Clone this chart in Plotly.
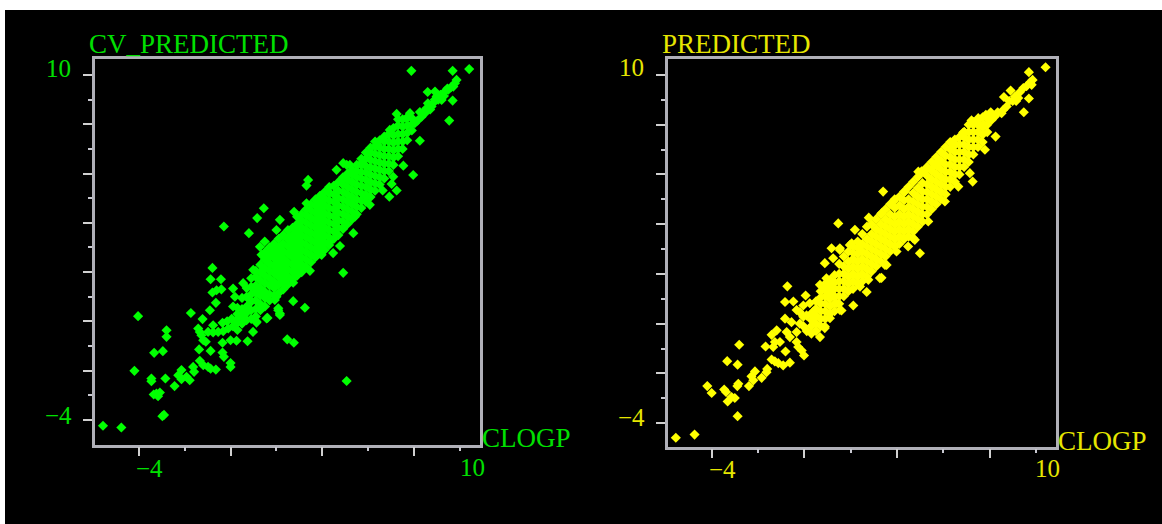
import plotly.graph_objects as go

W, H = 1162, 524

clogp_columns = [0.3, 0.5, 0.7, 0.9, 1.1, 1.3, 1.5, 1.7, 1.9, 2.1, 2.3, 2.5, 2.7, 2.9, 3.1, 3.3, 3.5, 3.7, 3.9, 4.1,
                 4.3, 4.5, 4.7, 4.9, 5.1, 5.3, 5.5, 5.7, 5.9, 6.1, 6.3, 6.5, 6.7, 6.9, 7.1, 7.3, 7.5, 7.7, 7.9]

cv_core = [
    [-0.35, -0.05, 0.3, 0.55],
    [-0.1, 0.2, 0.5, 0.95],
    [0.05, 0.35, 0.6, 1.0, 1.35],
    [0.1, 0.45, 0.8, 1.1, 1.4, 1.75],
    [0.2, 0.5, 0.85, 1.15, 1.45, 1.8, 2.05],
    [0.45, 0.7, 1.05, 1.35, 1.65, 2.0, 2.3],
    [0.6, 0.95, 1.2, 1.55, 1.85, 2.15, 2.5, 2.8],
    [0.85, 1.1, 1.45, 1.75, 2.05, 2.35, 2.65, 3.0],
    [1.05, 1.35, 1.6, 1.95, 2.25, 2.55, 2.85, 3.15],
    [1.15, 1.5, 1.8, 2.1, 2.4, 2.7, 3.0, 3.35],
    [1.3, 1.65, 1.95, 2.25, 2.55, 2.85, 3.15, 3.5],
    [1.5, 1.8, 2.1, 2.4, 2.75, 3.05, 3.35, 3.7],
    [1.7, 2.0, 2.3, 2.6, 2.9, 3.2, 3.5, 3.8],
    [1.85, 2.15, 2.45, 2.75, 3.05, 3.35, 3.65, 3.95, 4.25],
    [2.0, 2.3, 2.6, 2.9, 3.2, 3.5, 3.8, 4.1, 4.35],
    [2.2, 2.5, 2.8, 3.1, 3.4, 3.7, 4.0, 4.3, 4.55],
    [2.4, 2.7, 3.0, 3.3, 3.6, 3.9, 4.2, 4.5, 4.75],
    [2.6, 2.9, 3.2, 3.5, 3.8, 4.1, 4.4, 4.7, 4.95],
    [2.75, 3.05, 3.35, 3.65, 3.95, 4.25, 4.55, 4.85, 5.1],
    [2.9, 3.2, 3.5, 3.8, 4.1, 4.4, 4.7, 5.0, 5.25],
    [3.1, 3.4, 3.7, 4.0, 4.3, 4.6, 4.9, 5.2, 5.45],
    [3.35, 3.65, 3.95, 4.25, 4.55, 4.85, 5.15, 5.5],
    [3.5, 3.8, 4.1, 4.4, 4.7, 5.0, 5.3, 5.65],
    [3.75, 4.05, 4.35, 4.65, 4.95, 5.25, 5.55, 5.85],
    [3.95, 4.25, 4.55, 4.85, 5.15, 5.45, 5.75, 6.0],
    [4.15, 4.45, 4.75, 5.05, 5.35, 5.65, 5.95, 6.15],
    [4.35, 4.65, 4.95, 5.25, 5.55, 5.85, 6.1, 6.35],
    [4.6, 4.9, 5.2, 5.5, 5.8, 6.05, 6.35, 6.6],
    [4.85, 5.15, 5.45, 5.75, 6.05, 6.3, 6.6, 6.85],
    [5.05, 5.35, 5.65, 5.95, 6.25, 6.55, 6.85, 7.05],
    [5.3, 5.6, 5.9, 6.2, 6.5, 6.8, 7.1, 7.3],
    [5.55, 5.85, 6.15, 6.45, 6.75, 7.05, 7.35],
    [5.8, 6.1, 6.4, 6.7, 7.0, 7.3, 7.5],
    [6.1, 6.4, 6.7, 7.0, 7.3, 7.6],
    [6.35, 6.65, 6.95, 7.25, 7.55, 7.85],
    [6.7, 7.0, 7.3, 7.6, 7.95, 8.2],
    [7.0, 7.3, 7.6, 7.9, 8.2],
    [7.35, 7.65, 7.95, 8.25],
    [7.75, 8.0, 8.25],
]

pred_core = [
    [-0.4, -0.1, 0.15, 0.4],
    [-0.3, 0.0, 0.3, 0.6, 0.9],
    [-0.1, 0.2, 0.5, 0.8, 1.05, 1.3],
    [0.2, 0.5, 0.8, 1.1, 1.4, 1.6],
    [0.4, 0.7, 1.0, 1.25, 1.5, 1.75],
    [0.5, 0.8, 1.1, 1.4, 1.65, 1.95],
    [0.8, 1.1, 1.4, 1.7, 2.0, 2.4],
    [1.1, 1.4, 1.7, 2.0, 2.3, 2.7],
    [1.3, 1.6, 1.9, 2.2, 2.5, 2.9],
    [1.4, 1.7, 2.0, 2.3, 2.6, 2.85, 3.1],
    [1.6, 1.9, 2.2, 2.5, 2.8, 3.05, 3.3],
    [1.7, 2.0, 2.3, 2.6, 2.9, 3.2, 3.6],
    [1.9, 2.2, 2.5, 2.8, 3.1, 3.4, 3.9],
    [2.1, 2.4, 2.7, 3.0, 3.3, 3.6, 4.0],
    [2.3, 2.6, 2.9, 3.2, 3.5, 3.8, 4.2],
    [2.5, 2.8, 3.1, 3.4, 3.7, 4.0, 4.4],
    [2.7, 3.0, 3.3, 3.6, 3.9, 4.2, 4.6],
    [2.9, 3.2, 3.5, 3.8, 4.1, 4.4, 4.8],
    [3.1, 3.4, 3.7, 4.0, 4.3, 4.65, 5.0],
    [3.2, 3.5, 3.8, 4.1, 4.4, 4.75, 5.1],
    [3.4, 3.7, 4.0, 4.3, 4.6, 4.95, 5.3],
    [3.5, 3.8, 4.1, 4.4, 4.7, 5.0, 5.5],
    [3.7, 4.0, 4.3, 4.6, 4.9, 5.25, 5.7],
    [3.9, 4.2, 4.5, 4.8, 5.1, 5.45, 5.9],
    [4.1, 4.4, 4.7, 5.0, 5.3, 5.65, 6.1],
    [4.4, 4.7, 5.0, 5.3, 5.6, 5.95, 6.3],
    [4.6, 4.9, 5.2, 5.5, 5.8, 6.15, 6.5],
    [4.8, 5.1, 5.4, 5.7, 6.0, 6.35, 6.7],
    [5.0, 5.3, 5.6, 5.9, 6.2, 6.55, 6.9],
    [5.2, 5.5, 5.8, 6.1, 6.4, 6.75, 7.1],
    [5.5, 5.8, 6.1, 6.4, 6.7, 7.0, 7.3],
    [5.7, 6.0, 6.3, 6.6, 6.9, 7.2, 7.4],
    [6.0, 6.3, 6.6, 6.9, 7.2, 7.5],
    [6.3, 6.6, 6.9, 7.2, 7.5, 7.7],
    [6.5, 6.8, 7.1, 7.4, 7.7, 8.0],
    [6.8, 7.1, 7.4, 7.7, 8.0, 8.1],
    [7.1, 7.4, 7.7, 8.0, 8.2],
    [7.3, 7.6, 7.9, 8.3],
    [7.7, 8.0, 8.3],
]

cv_low = [(-5.56, -4.24), (-4.76, -4.31), (-2.97, -3.85), (-2.9, -3.8), (-4.03, 0.21), (-2.79, -0.36), (-2.79, -0.63),
          (-3.33, -1.28), (-2.95, -1.21), (-4.19, -2.01), (-3.45, -2.32), (-3.45, -2.43), (-2.84, -2.32),
          (-3.23, -2.93), (-3.08, -2.89), (-3.35, -2.97), (-3.16, -3.04), (-2.44, -2.63), (-2.14, -1.98),
          (-2.28, -2.19), (-2.14, -2.35), (-1.92, -2.25), (-1.78, -2.39), (-1.63, -1.85), (-1.59, -2.05),
          (-1.34, -1.6), (-1.19, -1.78), (-0.98, -1.85), (-0.87, -1.92), (-0.64, -1.96), (-1.37, -1.14),
          (-0.87, -1.2), (-0.35, -1.27), (-0.29, -1.44), (0.0, -1.69), (0.0, -1.85), (-1.73, 0.34), (-1.22, 0.09),
          (-0.9, 0.45), (-0.64, 0.75), (-0.79, 1.17), (-0.61, 1.26), (-0.4, 1.3), (-0.87, 1.71), (-0.42, 1.71),
          (-0.79, 2.17), (-1.41, -0.29), (-1.34, -0.43), (-1.27, -0.56), (-1.19, -0.77), (-1.08, -0.83),
          (-0.76, -0.16), (-0.98, -0.43), (-0.76, -0.45), (-0.54, -0.43), (-0.32, -0.4), (-0.1, -0.29), (-0.35, -0.06),
          (-0.35, -0.87), (0.0, -0.77), (0.26, -0.79), (0.74, -0.81), (0.11, 1.33), (0.98, -0.43), (1.13, -0.05),
          (1.61, 0.14), (2.15, 0.32), (2.08, 0.45), (2.73, 0.82), (2.47, -0.73), (2.76, -0.87), (2.73, 1.57),
          (0.1, -0.2), (0.05, 0.1), (-0.15, 0.0)]

cv_high = [(4.91, 1.97), (3.24, 0.55), (5.06, -2.42), (3.46, 2.05), (7.88, 10.17), (9.68, 10.17), (10.4, 10.24),
           (9.68, 8.96), (9.53, 8.15), (8.25, 7.33), (7.24, 8.42), (6.94, 7.77), (8.59, 9.31), (7.96, 5.94),
           (7.24, 5.31), (6.92, 5.06), (6.63, 5.31), (5.35, 3.58), (4.47, 2.77), (4.77, 3.06), (3.38, 5.74),
           (3.31, 5.51), (3.31, 4.79), (4.62, 6.15), (4.91, 6.42), (5.2, 6.35), (5.71, 6.42), (6.07, 6.82),
           (6.41, 7.16), (7.53, 6.32), (7.09, 5.87), (7.02, 5.58), (6.07, 4.73), (1.45, 4.59), (2.77, 4.45),
           (1.16, 4.19), (-0.29, 3.85), (0.8, 3.58), (9.85, 9.8), (9.71, 9.53), (9.34, 9.33), (8.91, 9.33),
           (9.2, 8.99), (8.98, 9.13), (8.76, 8.72), (8.54, 8.65), (8.33, 8.31), (8.03, 8.04), (7.67, 8.25),
           (7.82, 8.45), (9.78, 9.67), (9.49, 9.4), (8.47, 8.45), (8.83, 8.86)]

cv_fringe = [(2.15, 4.12), (2.0, 3.71), (1.49, 3.24), (1.28, 3.03), (1.35, 2.7), (0.99, 2.09), (0.55, 1.55), (0.19, 1.0),
             (3.89, 5.06), (4.26, 5.27), (4.91, 5.74), (5.06, 6.35), (2.0, 1.0), (1.93, 0.87), (2.37, 1.48),
             (3.09, 2.15), (3.97, 2.7), (4.33, 3.24), (5.42, 4.25), (4.91, 3.78), (5.93, 5.06), (2.58, 3.44),
             (1.78, 2.83), (1.13, 1.27), (0.84, 0.87), (0.55, 0.33), (0.11, 0.6), (0.26, 0.06), (1.13, -0.01),
             (1.57, 0.12), (2.15, 0.26), (2.08, 0.53), (8.15, 8.15), (8.25, 8.5), (8.4, 8.5), (8.6, 8.85),
             (8.7, 8.6), (8.9, 9.0), (9.05, 9.0), (9.15, 9.2), (9.3, 9.15), (9.45, 9.45), (9.6, 9.5)]

pred_low = [(-5.56, -4.59), (-4.75, -4.46), (-2.89, -3.72), (-3.32, -3.13), (-3.15, -2.95), (-3.01, -2.99),
            (-4.2, -2.51), (-4.01, -2.79), (-3.47, -2.65), (-3.39, -2.75), (-2.86, -2.42), (-2.9, -2.51),
            (-2.4, -2.51), (-3.34, -1.51), (-2.89, -1.65), (-2.82, -0.85), (-2.29, -2.12), (-2.14, -1.92),
            (-2.21, -2.28), (-1.85, -2.18), (-1.61, -1.82), (-1.64, -1.95), (-1.42, -1.44), (-1.28, -1.52),
            (-1.13, -1.59), (-0.92, -1.68), (-0.63, -1.57), (-1.68, -0.92), (-1.42, -0.45), (-1.2, -0.27),
            (-1.35, -0.94), (-1.28, -0.74), (-1.06, -0.74), (-0.82, -1.12), (-0.34, -0.74), (-0.27, -0.94),
            (-0.12, -1.08), (-0.02, -1.28), (-0.74, 1.5), (-0.84, 0.87), (-0.48, 0.89), (-0.84, 0.2), (-0.56, 0.06),
            (-0.2, 0.0), (-0.77, -0.34), (-0.63, -0.54), (-0.34, -0.34), (0.05, 1.13), (0.67, -0.54), (0.88, -0.18),
            (1.6, 0.53), (2.11, 0.73), (2.69, 1.27), (3.26, 1.83), (-0.05, 0.73), (-0.2, 0.46), (0.09, 0.33),
            (0.1, -0.3), (-0.05, -0.1)]

pred_high = [(3.48, 2.36), (3.33, 1.84), (3.4, 5.31), (1.46, 4.03), (2.78, 4.26), (2.18, 3.77), (1.96, 3.16),
             (1.17, 3.03), (1.53, 3.03), (10.42, 10.31), (9.7, 10.11), (9.86, 9.8), (9.82, 9.6), (9.46, 9.47),
             (9.24, 9.07), (9.1, 9.13), (8.91, 9.37), (8.62, 9.11), (9.7, 9.05), (9.48, 8.5), (8.74, 8.73),
             (8.52, 8.46), (8.23, 8.33), (7.84, 8.4), (7.51, 8.26), (7.22, 8.17), (6.91, 7.7), (8.26, 7.52),
             (7.8, 6.99), (7.27, 5.71), (6.65, 5.51), (6.07, 4.91), (5.35, 4.11), (4.48, 3.1), (4.99, 2.83),
             (4.77, 3.37), (5.06, 6.12), (5.71, 6.45), (6.36, 7.05)]

pred_fringe = [(2.04, 3.23), (1.53, 2.96), (0.88, 2.43), (1.24, 2.63), (0.67, 1.56), (0.95, 1.82), (0.23, 0.82),
               (3.33, 4.44), (3.84, 4.91), (4.34, 5.31), (4.92, 6.11), (5.64, 6.38), (6.07, 6.78), (6.43, 7.12),
               (6.86, 7.68), (5.13, 6.11), (2.76, 1.76), (3.55, 2.36), (3.98, 2.9), (4.7, 3.43), (7.15, 6.05),
               (1.53, 0.55), (0.88, -0.12), (1.1, 0.22), (1.39, 0.82), (2.4, 1.49), (-0.34, 0.55), (0.38, 0.48),
               (-0.05, 0.28), (8.1, 8.2), (8.35, 8.5), (8.6, 8.6), (8.85, 8.95), (9.0, 8.95), (9.3, 9.3),
               (9.15, 8.95), (9.6, 9.55), (9.75, 9.7), (8.05, 8.5), (7.75, 8.0), (7.95, 8.2), (7.6, 8.0)]

major_x = [-4, 0, 4, 8]
minor_x = [-2, 2, 6, 10]
major_y = [-4, -2, 0, 2, 4, 6, 8, 10]
minor_y = [-3, -1, 1, 3, 5, 7, 9]

GREEN = "#00ff00"
YELLOW = "#ffff00"
TEXT_GREEN = "#00e000"
TEXT_YELLOW = "#e6e600"
FRAME = "#b0b0b8"


def flatten(columns, core, *extras):
    xs, ys = [], []
    for c, vals in zip(columns, core):
        for v in vals:
            xs.append(c)
            ys.append(v)
    for extra in extras:
        for x, y in extra:
            xs.append(x)
            ys.append(y)
    return xs, ys


def axis_style(major, minor, domain, rng, anchor):
    return dict(
        domain=domain, range=rng, anchor=anchor, showgrid=False, zeroline=False, showticklabels=False,
        showline=True, mirror=True, linecolor=FRAME, linewidth=2.5,
        tickmode="array", tickvals=major, ticks="outside", ticklen=9, tickwidth=2, tickcolor="#d0d0d0",
        minor=dict(tickmode="array", tickvals=minor, ticks="outside", ticklen=4, tickwidth=2, tickcolor="#c8c8d0"),
    )


fig = go.Figure()
x1, y1 = flatten(clogp_columns, cv_core, cv_low, cv_high, cv_fringe)
x2, y2 = flatten(clogp_columns, pred_core, pred_low, pred_high, pred_fringe)
marker_common = dict(symbol="diamond", size=7.8, line=dict(width=0))
fig.add_trace(go.Scatter(x=x1, y=y1, mode="markers", xaxis="x", yaxis="y", marker=dict(color=GREEN, **marker_common)))
fig.add_trace(go.Scatter(x=x2, y=y2, mode="markers", xaxis="x2", yaxis="y2", marker=dict(color=YELLOW, **marker_common)))


def label(text, px, py, color, size=27):
    return dict(text=text, x=px / W, y=1 - py / H, xref="paper", yref="paper", xanchor="left", yanchor="middle",
                showarrow=False, font=dict(family="Liberation Serif", size=size, color=color), borderpad=0, borderwidth=0)


annotations = [
    label("CV_PREDICTED", 89, 44, TEXT_GREEN),
    label("10", 46, 68, TEXT_GREEN, 25),
    label("\u22124", 45, 415, TEXT_GREEN, 25),
    label("\u22124", 136, 468, TEXT_GREEN, 25),
    label("10", 460, 467, TEXT_GREEN, 25),
    label("CLOGP", 482, 438, TEXT_GREEN),
    label("PREDICTED", 662, 44, TEXT_YELLOW),
    label("10", 619, 67, TEXT_YELLOW, 25),
    label("\u22124", 618, 417, TEXT_YELLOW, 25),
    label("\u22124", 709, 469, TEXT_YELLOW, 25),
    label("10", 1035, 468, TEXT_YELLOW, 25),
    label("CLOGP", 1058, 441, TEXT_YELLOW),
]

fig.update_layout(
    width=W, height=H, autosize=False, showlegend=False,
    margin=dict(l=0, r=0, t=0, b=0, pad=0),
    paper_bgcolor="#ffffff", plot_bgcolor="#000000",
    shapes=[dict(type="rect", xref="paper", yref="paper", x0=5 / W, x1=1, y0=0, y1=1 - 10 / H,
                 fillcolor="#000000", line=dict(width=0), layer="below")],
    annotations=annotations,
    xaxis=axis_style(major_x, minor_x, [94.5 / W, 479.5 / W], [-5.93, 10.85], "y"),
    yaxis=axis_style(major_y, minor_y, [1 - 444.5 / H, 1 - 58.5 / H], [-5.0, 10.67], "x"),
    xaxis2=axis_style(major_x, minor_x, [667.5 / W, 1055.5 / W], [-5.92, 10.85], "y2"),
    yaxis2=axis_style(major_y, minor_y, [1 - 446.5 / H, 1 - 58.5 / H], [-4.94, 10.66], "x2"),
)

fig.write_html("out.html", config={"displayModeBar": False},
               post_script="document.body.style.margin='0';document.body.style.overflow='hidden';")
